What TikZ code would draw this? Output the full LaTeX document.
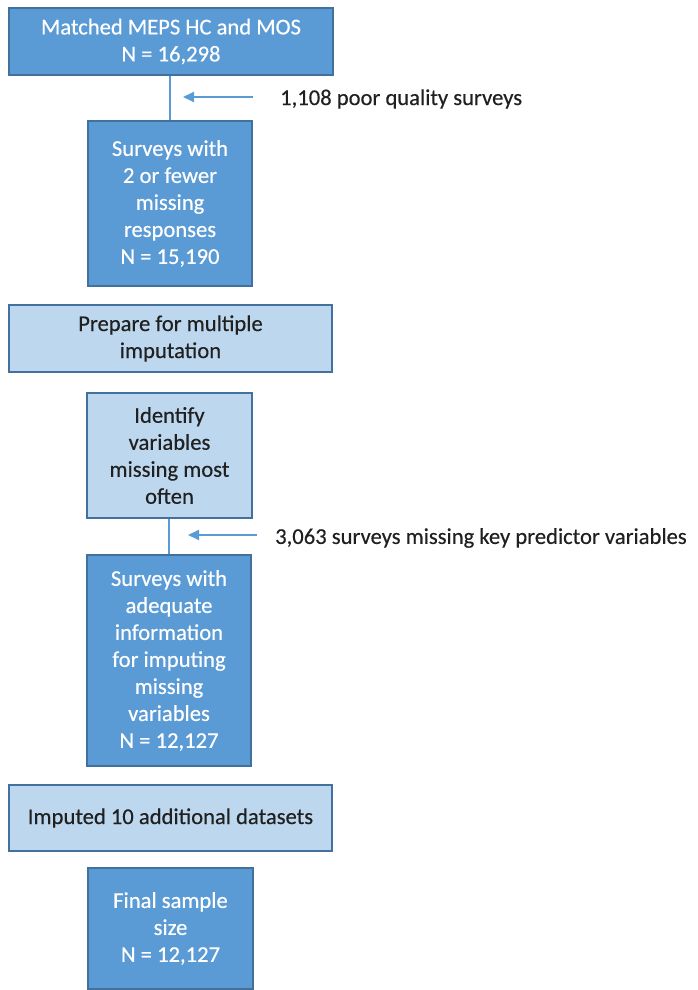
\documentclass[tikz,border=0pt]{standalone}
\usepackage{fontspec}
\setmainfont{Carlito}[FakeBold=0.35]
\usetikzlibrary{arrows.meta}
\definecolor{boxdark}{HTML}{5B9BD5}
\definecolor{boxlight}{HTML}{BDD7EE}
\definecolor{boxedge}{HTML}{41719C}
\definecolor{linkblue}{HTML}{5B9BD5}
\definecolor{sidetext}{HTML}{202020}
\tikzset{
  darkbox/.style={draw=boxedge, line width=1.3pt, fill=boxdark, text=white,
    align=center, inner sep=0pt, font=\fontsize{22.6}{27}\selectfont},
  lightbox/.style={draw=boxedge, line width=1.3pt, fill=boxlight, text=sidetext,
    align=center, inner sep=0pt, font=\fontsize{22.6}{27}\selectfont},
  link/.style={draw=linkblue, line width=1.8pt},
  exclude/.style={draw=linkblue, line width=1.8pt, -{Triangle[length=11pt,width=10pt]}},
  sidenote/.style={anchor=west, text=sidetext, inner sep=0pt, font=\fontsize{22.6}{27}\selectfont}
}
\begin{document}
\begin{tikzpicture}[x=1pt,y=-1pt]
\useasboundingbox (0,0) rectangle (697,990);

% main flow boxes
\node[darkbox, minimum width=324pt, minimum height=67pt] (b1) at (171,41.5)
  {Matched MEPS HC and MOS\\N = 16,298};
\node[darkbox, minimum width=164pt, minimum height=165pt] (b2) at (170,203.5)
  {Surveys with\\2 or fewer\\missing\\responses\\N = 15,190};
\node[lightbox, minimum width=323pt, minimum height=67pt] (b3) at (170.5,338.5)
  {Prepare for multiple\\imputation};
\node[lightbox, minimum width=165pt, minimum height=125pt] (b4) at (169.5,455.5)
  {Identify\\variables\\missing most\\often};
\node[darkbox, minimum width=164pt, minimum height=211pt] (b5) at (169,660.5)
  {Surveys with\\adequate\\information\\for imputing\\missing\\variables\\N = 12,127};
\node[lightbox, minimum width=323pt, minimum height=66pt] (b6) at (170.5,818)
  {Imputed 10 additional datasets};
\node[darkbox, minimum width=165pt, minimum height=121pt] (b7) at (170.5,928.5)
  {Final sample\\size\\N = 12,127};

% vertical connectors
\draw[link] (b2.north) -- (b2.north |- b1.south);
\draw[link] (b5.north) -- (b5.north |- b4.south);

% exclusions
\coordinate (x1from) at (253,97);
\coordinate (x1to) at (183,97);
\draw[exclude] (x1from) -- (x1to);
\node[sidenote] (n1) at (280,99) {1,108 poor quality surveys};

\coordinate (x2from) at (257,535);
\coordinate (x2to) at (188,535);
\draw[exclude] (x2from) -- (x2to);
\node[sidenote] (n2) at (275,538) {3,063 surveys missing key predictor variables};
\end{tikzpicture}
\end{document}
